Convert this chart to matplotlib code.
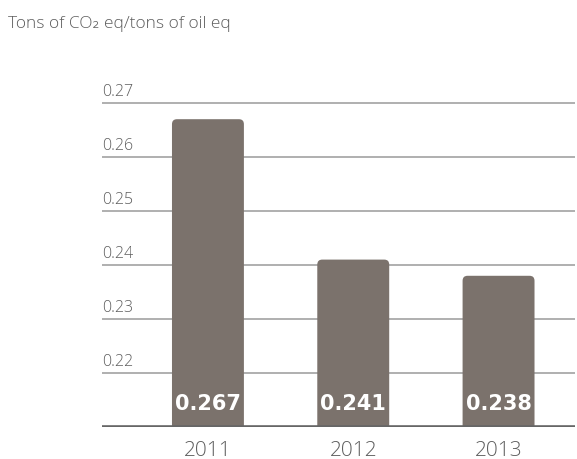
import matplotlib.pyplot as plt
from matplotlib.patches import FancyBboxPatch
import numpy as np

years = ['2011', '2012', '2013']
values = [0.267, 0.241, 0.238]
grid_ticks = [0.22, 0.23, 0.24, 0.25, 0.26, 0.27]

bar_color = '#7b726c'
text_color = '#5e5e5e'
plt.rcParams['font.family'] = ['Open Sans', 'DejaVu Sans']

fig = plt.figure(figsize=(5.77, 4.6), dpi=100)
ax = fig.add_axes([0.1768, 0.0696, 0.8197, 0.7278])
ax.set_xlim(-0.729, 2.526)
ax.set_ylim(0.21, 0.272)

# horizontal rules with the value written just above each one
for t in grid_ticks:
    ax.axhline(t, color='#9a9a9a', linewidth=1.1, zorder=1)
    ax.annotate(f'{t:.2f}', xy=(0, t), xycoords=('axes fraction', 'data'),
                xytext=(0, 3), textcoords='offset points', ha='left', va='bottom',
                fontsize=11.5, color=text_color, fontweight='light')
ax.axhline(0.21, color='#666666', linewidth=2.6, zorder=4)

# bars with rounded tops (bottom goes below the axis and gets clipped)
width = 0.495
rx = 0.034
ry = 5 / 5400
for i, v in enumerate(values):
    bottom = 0.205
    p = FancyBboxPatch((i - width / 2, bottom), width, v - bottom,
                       boxstyle=f'round,pad=0,rounding_size={rx}',
                       mutation_aspect=ry / rx, facecolor=bar_color,
                       edgecolor='none', zorder=3, clip_on=True)
    ax.add_patch(p)
    ax.annotate(f'{v:.3f}', xy=(i, 0.21), xytext=(0, 17), textcoords='offset points',
                ha='center', va='center', fontsize=15, fontweight='bold',
                color='white', family='DejaVu Sans', zorder=5)

ax.set_xticks(np.arange(len(years)))
ax.set_xticklabels(years, fontsize=15, color=text_color, fontweight='light')
ax.tick_params(axis='x', length=0, pad=9.5)
ax.set_yticks([])
for s in ax.spines.values():
    s.set_visible(False)

fig.text(8 / 577, 1 - 24 / 460, 'Tons of CO₂ eq/tons of oil eq', ha='left', va='center',
         fontsize=12.5, color=text_color, fontweight='light')

fig.savefig('out.png', dpi=100)
